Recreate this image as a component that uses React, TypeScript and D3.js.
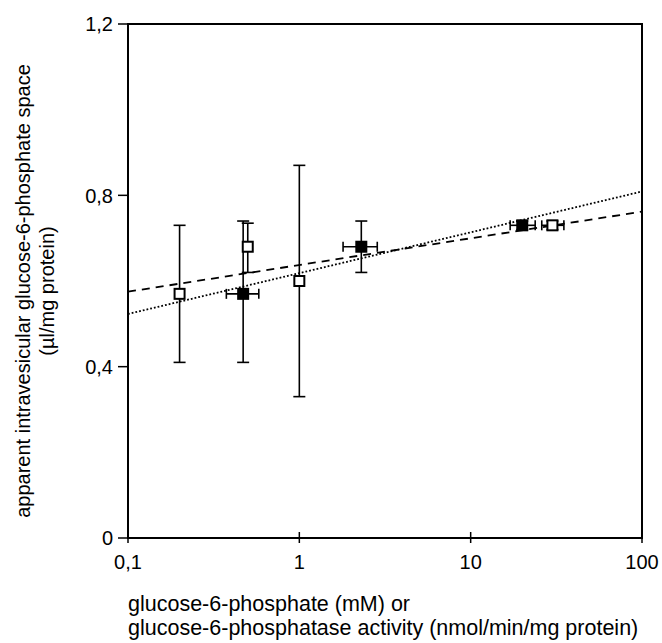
import * as d3 from "d3";
import { useEffect, useRef } from "react";

// open squares
const openX = [0.2, 0.5, 1, 30];
const openY = [0.57, 0.68, 0.6, 0.73];
const openYLow = [0.41, 0.62, 0.33, 0.72];
const openYHigh = [0.73, 0.735, 0.87, 0.74];
const openXLow = [null, null, null, 26];
const openXHigh = [null, null, null, 35];

// filled squares
const filledX = [0.47, 2.3, 20];
const filledY = [0.57, 0.68, 0.73];
const filledYLow = [0.41, 0.62, 0.72];
const filledYHigh = [0.74, 0.74, 0.74];
const filledXLow = [0.375, 1.8, 17];
const filledXHigh = [0.58, 2.85, 23.8];

// regression lines, value at x=0.1 and x=100
const dashedLine = [0.575, 0.762];
const dottedLine = [0.523, 0.809];

const xTicks = [0.1, 1, 10, 100];
const xTickLabels = ["0,1", "1", "10", "100"];
const yTicks = [0, 0.4, 0.8, 1.2];
const yTickLabels = ["0", "0,4", "0,8", "1,2"];

const W = 662;
const H = 643;
const margin = { top: 24, bottom: 105, left: 128, right: 20 };
const FONT = "'Liberation Sans', Arial, sans-serif";

const App = () => {
    const ref = useRef(null);

    useEffect(() => {
        const svg = d3.select(ref.current);
        svg.selectAll("*").remove();

        const x = d3.scaleLog().domain([0.1, 100]).range([margin.left, W - margin.right]);
        const y = d3.scaleLinear().domain([0, 1.2]).range([H - margin.bottom, margin.top]);

        // frame
        svg.append("rect")
            .attr("x", x(0.1))
            .attr("y", y(1.2))
            .attr("width", x(100) - x(0.1))
            .attr("height", y(0) - y(1.2))
            .attr("fill", "none")
            .attr("stroke", "#000")
            .attr("stroke-width", 2);

        // y ticks
        yTicks.forEach((t, i) => {
            svg.append("line")
                .attr("x1", x(0.1) - 10).attr("x2", x(0.1))
                .attr("y1", y(t)).attr("y2", y(t))
                .attr("stroke", "#000").attr("stroke-width", 1.5);
            svg.append("text")
                .attr("x", x(0.1) - 15)
                .attr("y", y(t))
                .attr("dy", "0.36em")
                .attr("text-anchor", "end")
                .style("font-family", FONT)
                .style("font-size", "20px")
                .text(yTickLabels[i]);
        });

        // x ticks
        xTicks.forEach((t, i) => {
            svg.append("line")
                .attr("x1", x(t)).attr("x2", x(t))
                .attr("y1", y(0) - 6).attr("y2", y(0) + 5)
                .attr("stroke", "#000").attr("stroke-width", 1.5);
            svg.append("text")
                .attr("x", x(t))
                .attr("y", y(0) + 31)
                .attr("text-anchor", "middle")
                .style("font-family", FONT)
                .style("font-size", "20px")
                .text(xTickLabels[i]);
        });

        // regression lines
        const lineGen = d3.line().x(d => x(d[0])).y(d => y(d[1]));
        svg.append("path")
            .attr("d", lineGen([[0.1, dashedLine[0]], [100, dashedLine[1]]]))
            .attr("fill", "none")
            .attr("stroke", "#000")
            .attr("stroke-width", 1.8)
            .attr("stroke-dasharray", "8,6");
        svg.append("path")
            .attr("d", lineGen([[0.1, dottedLine[0]], [100, dottedLine[1]]]))
            .attr("fill", "none")
            .attr("stroke", "#000")
            .attr("stroke-width", 1.8)
            .attr("stroke-dasharray", "1.8,2");

        const g = svg.append("g").attr("stroke", "#000").attr("stroke-width", 1.6);
        const cap = 6;

        const errorBars = (xs, ys, yl, yh, xl, xh) => {
            xs.forEach((xv, i) => {
                const cx = x(xv);
                const cy = y(ys[i]);
                g.append("line").attr("x1", cx).attr("x2", cx).attr("y1", y(yl[i])).attr("y2", y(yh[i]));
                g.append("line").attr("x1", cx - cap).attr("x2", cx + cap).attr("y1", y(yl[i])).attr("y2", y(yl[i]));
                g.append("line").attr("x1", cx - cap).attr("x2", cx + cap).attr("y1", y(yh[i])).attr("y2", y(yh[i]));
                if (xl[i] != null) {
                    g.append("line").attr("x1", x(xl[i])).attr("x2", x(xh[i])).attr("y1", cy).attr("y2", cy);
                    g.append("line").attr("x1", x(xl[i])).attr("x2", x(xl[i])).attr("y1", cy - 5).attr("y2", cy + 5);
                    g.append("line").attr("x1", x(xh[i])).attr("x2", x(xh[i])).attr("y1", cy - 5).attr("y2", cy + 5);
                }
            });
        };
        errorBars(filledX, filledY, filledYLow, filledYHigh, filledXLow, filledXHigh);
        errorBars(openX, openY, openYLow, openYHigh, openXLow, openXHigh);

        const s = 12;
        svg.selectAll(".filled")
            .data(filledX)
            .enter()
            .append("rect")
            .attr("x", d => x(d) - s / 2)
            .attr("y", (d, i) => y(filledY[i]) - s / 2)
            .attr("width", s)
            .attr("height", s)
            .attr("fill", "#000");
        svg.selectAll(".open")
            .data(openX)
            .enter()
            .append("rect")
            .attr("x", d => x(d) - (s - 2) / 2)
            .attr("y", (d, i) => y(openY[i]) - (s - 2) / 2)
            .attr("width", s - 2)
            .attr("height", s - 2)
            .attr("fill", "#fff")
            .attr("stroke", "#000")
            .attr("stroke-width", 2);

        // axis titles
        const yTitle = svg.append("text")
            .attr("transform", "translate(0, 291) rotate(-90)")
            .attr("text-anchor", "middle")
            .style("font-family", FONT)
            .style("font-size", "20px");
        yTitle.append("tspan").attr("x", 0).attr("y", 30).text("apparent intravesicular glucose-6-phosphate space");
        yTitle.append("tspan").attr("x", 0).attr("y", 54).text("(\u00b5l/mg protein)");

        const xTitle = svg.append("text")
            .style("font-family", FONT)
            .style("font-size", "21.5px");
        xTitle.append("tspan").attr("x", 128).attr("y", 611).text("glucose-6-phosphate (mM) or");
        xTitle.append("tspan").attr("x", 128).attr("y", 635).text("glucose-6-phosphatase activity (nmol/min/mg protein)");
    }, []);

    return (
        <svg ref={ref} width={W} height={H}
            style={{ position: "absolute", left: 0, top: 0, background: "#fff" }}></svg>
    );
};

export default App;
